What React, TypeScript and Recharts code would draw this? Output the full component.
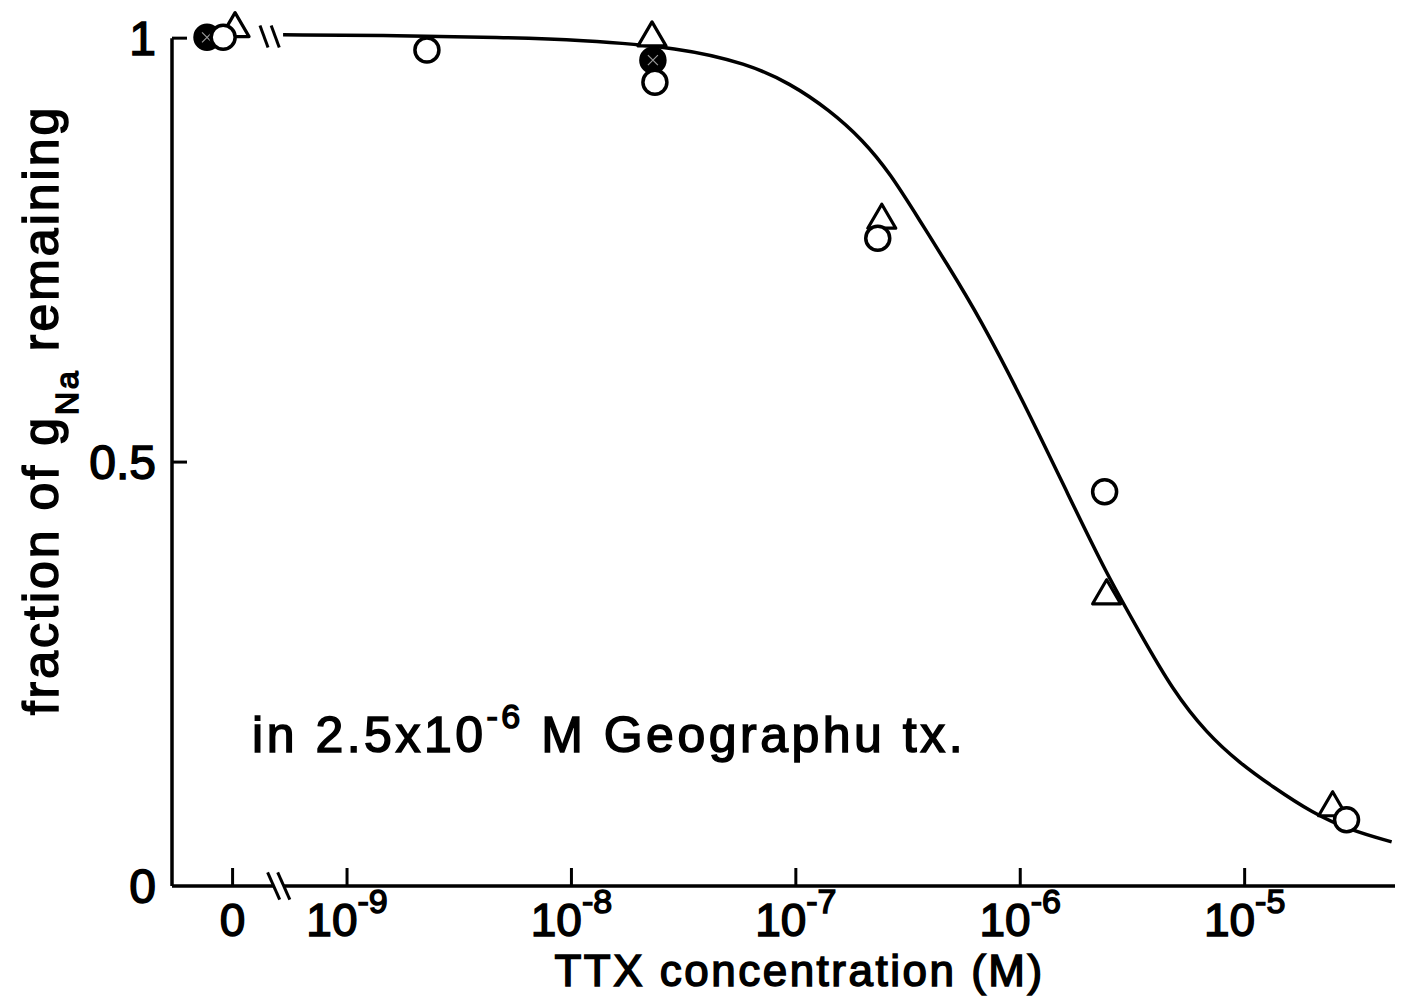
import {
  ComposedChart,
  Line,
  Scatter,
  XAxis,
  YAxis,
  ReferenceLine,
  ReferenceDot,
} from "recharts";

const FONT = '"Liberation Sans", Arial, Helvetica, sans-serif';
const INK = "#000";

// x is log10 of the TTX concentration (M); the controls without TTX
// sit in the "0" slot left of the axis break
const ZERO_SLOT = -9.51;
const X_MIN = -9.78;
const X_MAX = -4.33;
const Y_MAX = 1.045;

const X_TICKS = [ZERO_SLOT, -9, -8, -7, -6, -5];
const X_TICK_LABELS = ["0", "-9", "-8", "-7", "-6", "-5"];
const Y_TICKS = [0, 0.5, 1];
const Y_TICK_LABELS = ["0", "0.5", "1"];

// fitted dose-response curve
const CURVE_LOG_CONC = [
  -9.285, -8.764, -8.318, -7.962, -7.517, -7.218, -7.027, -6.849, -6.702,
  -6.581, -6.448, -6.327, -6.18, -5.989, -5.78, -5.615, -5.468, -5.321,
  -5.169, -5.022, -4.875, -4.697, -4.532, -4.345,
];
const CURVE_FRACTION = [
  1.004, 1.003, 1.001, 0.998, 0.989, 0.97, 0.947, 0.915, 0.88, 0.841, 0.785,
  0.734, 0.67, 0.573, 0.458, 0.368, 0.299, 0.231, 0.18, 0.145, 0.117, 0.086,
  0.066, 0.052,
];

// open circles
const OPEN_LOG_CONC = [-9.552, -8.644, -7.628, -6.635, -5.624, -4.546];
const OPEN_FRACTION = [1.001, 0.986, 0.948, 0.764, 0.465, 0.078];

// filled (crossed) circles
const FILLED_LOG_CONC = [-9.624, -7.637];
const FILLED_FRACTION = [1.001, 0.974];

// triangles
const TRIANGLE_LOG_CONC = [-9.499, -7.641, -6.617, -5.615, -4.608];
const TRIANGLE_FRACTION = [1.016, 1.005, 0.79, 0.347, 0.097];

const toPoints = (xs: number[], ys: number[]) =>
  xs.map((x, i) => ({ x, y: ys[i] }));

const curveData = toPoints(CURVE_LOG_CONC, CURVE_FRACTION);
const openData = toPoints(OPEN_LOG_CONC, OPEN_FRACTION);
const filledData = toPoints(FILLED_LOG_CONC, FILLED_FRACTION);
const triangleData = toPoints(TRIANGLE_LOG_CONC, TRIANGLE_FRACTION);

const textStyle = {
  fontFamily: FONT,
  fill: INK,
  stroke: INK,
  strokeWidth: 1.5,
};

function OpenCircle(props: any) {
  const { cx, cy } = props;
  return (
    <circle cx={cx} cy={cy} r={12} fill="#fff" stroke={INK} strokeWidth={3.5} />
  );
}

function FilledCircle(props: any) {
  const { cx, cy } = props;
  return (
    <g>
      <circle cx={cx} cy={cy} r={12} fill={INK} stroke={INK} strokeWidth={3.5} />
      <path
        d={`M${cx - 5},${cy - 5}L${cx + 5},${cy + 5}M${cx + 5},${cy - 5}L${cx - 5},${cy + 5}`}
        stroke="#fff"
        strokeWidth={1.2}
        opacity={0.6}
      />
    </g>
  );
}

function Triangle(props: any) {
  const { cx, cy } = props;
  return (
    <polygon
      points={`${cx},${cy - 12} ${cx - 14},${cy + 12} ${cx + 14},${cy + 12}`}
      fill="#fff"
      stroke={INK}
      strokeWidth={3.2}
      strokeLinejoin="round"
    />
  );
}

function XTick(props: any) {
  const { x, y, payload } = props;
  const label = X_TICK_LABELS[X_TICKS.indexOf(payload.value)];
  return (
    <g>
      <line x1={x} y1={y} x2={x} y2={y - 18} stroke={INK} strokeWidth={3} />
      {label === "0" ? (
        <text x={x} y={y + 50} textAnchor="middle" fontSize={46} style={textStyle}>
          0
        </text>
      ) : (
        <text x={x} y={y + 50} textAnchor="middle" fontSize={46} style={textStyle}>
          10
          <tspan dy={-23} fontSize={34}>
            {label}
          </tspan>
        </text>
      )}
    </g>
  );
}

function YTick(props: any) {
  const { x, y, payload } = props;
  const label = Y_TICK_LABELS[Y_TICKS.indexOf(payload.value)];
  return (
    <g>
      {payload.value > 0 && (
        <line x1={x} y1={y} x2={x + 15} y2={y} stroke={INK} strokeWidth={3} />
      )}
      <text x={x - 16} y={y + 17} textAnchor="end" fontSize={48} style={textStyle}>
        {label}
      </text>
    </g>
  );
}

function XTitle(props: any) {
  const { viewBox } = props;
  return (
    <text
      x={viewBox.x + viewBox.width / 2 + 16}
      y={viewBox.y + 100}
      textAnchor="middle"
      fontSize={44}
      letterSpacing={2.5}
      style={textStyle}
    >
      TTX concentration (M)
    </text>
  );
}

function YTitle(props: any) {
  const { viewBox } = props;
  const cx = viewBox.x - 14;
  const cy = 410;
  return (
    <text
      transform={`translate(${cx},${cy}) rotate(-90)`}
      textAnchor="middle"
      fontSize={50}
      letterSpacing={3}
      style={textStyle}
    >
      fraction of g
      <tspan dy={20} fontSize={32}>
        Na
      </tspan>
      <tspan dy={-20}> remaining</tspan>
    </text>
  );
}

function Note(props: any) {
  const { viewBox } = props;
  return (
    <text
      x={viewBox.x}
      y={viewBox.y}
      fontSize={50}
      letterSpacing={3.5}
      style={textStyle}
    >
      in 2.5x10
      <tspan dy={-24} fontSize={34}>
        -6
      </tspan>
      <tspan dy={24}> M Geographu tx.</tspan>
    </text>
  );
}

// pairs of slanted strokes marking a broken axis / curve
const slashPair = (x: number, y: number, dx: number, dy: number, gap: number) =>
  [0, gap].map((off) => (
    <ReferenceLine
      key={`${x}-${y}-${off}`}
      segment={[
        { x: x + off - dx, y: y + dy },
        { x: x + off + dx, y: y - dy },
      ]}
      stroke={INK}
      strokeWidth={3}
      ifOverflow="visible"
    />
  ));

export default function App() {
  return (
    <div style={{ position: "absolute", left: 0, top: 0, background: "#fff" }}>
      <ComposedChart
        width={1401}
        height={999}
        margin={{ top: 0, right: 6, bottom: 0, left: 72 }}
      >
        <XAxis
          type="number"
          dataKey="x"
          domain={[X_MIN, X_MAX]}
          ticks={X_TICKS}
          interval={0}
          tick={<XTick />}
          tickSize={0}
          tickMargin={0}
          tickLine={false}
          axisLine={false}
          height={113}
          label={{ content: (p: any) => <XTitle {...p} /> }}
        />
        <YAxis
          type="number"
          dataKey="y"
          domain={[0, Y_MAX]}
          ticks={Y_TICKS}
          interval={0}
          tick={<YTick />}
          tickSize={0}
          tickMargin={0}
          tickLine={false}
          axisLine={false}
          width={100}
          label={{ content: (p: any) => <YTitle {...p} /> }}
        />

        {/* axis lines, with the break between the control slot and 10^-9 */}
        <ReferenceLine
          segment={[
            { x: X_MIN, y: 0 },
            { x: X_MIN, y: 1 },
          ]}
          stroke={INK}
          strokeWidth={3.5}
          ifOverflow="visible"
        />
        <ReferenceLine
          segment={[
            { x: X_MIN, y: 0 },
            { x: -9.33, y: 0 },
          ]}
          stroke={INK}
          strokeWidth={3.5}
          ifOverflow="visible"
        />
        <ReferenceLine
          segment={[
            { x: -9.285, y: 0 },
            { x: X_MAX, y: 0 },
          ]}
          stroke={INK}
          strokeWidth={3.5}
          ifOverflow="visible"
        />
        {slashPair(-9.327, 0, 0.027, 0.016, 0.045)}
        {slashPair(-9.37, 1.002, 0.018, 0.013, 0.05)}

        <Line
          data={curveData}
          dataKey="y"
          type="basis"
          stroke={INK}
          strokeWidth={3.5}
          dot={false}
          isAnimationActive={false}
        />
        <Scatter data={triangleData} dataKey="y" shape={Triangle} isAnimationActive={false} />
        <Scatter data={filledData} dataKey="y" shape={FilledCircle} isAnimationActive={false} />
        <Scatter data={openData} dataKey="y" shape={OpenCircle} isAnimationActive={false} />

        <ReferenceDot
          x={-9.423}
          y={0.158}
          r={0}
          ifOverflow="visible"
          label={{ content: (p: any) => <Note {...p} /> }}
        />
      </ComposedChart>
    </div>
  );
}
